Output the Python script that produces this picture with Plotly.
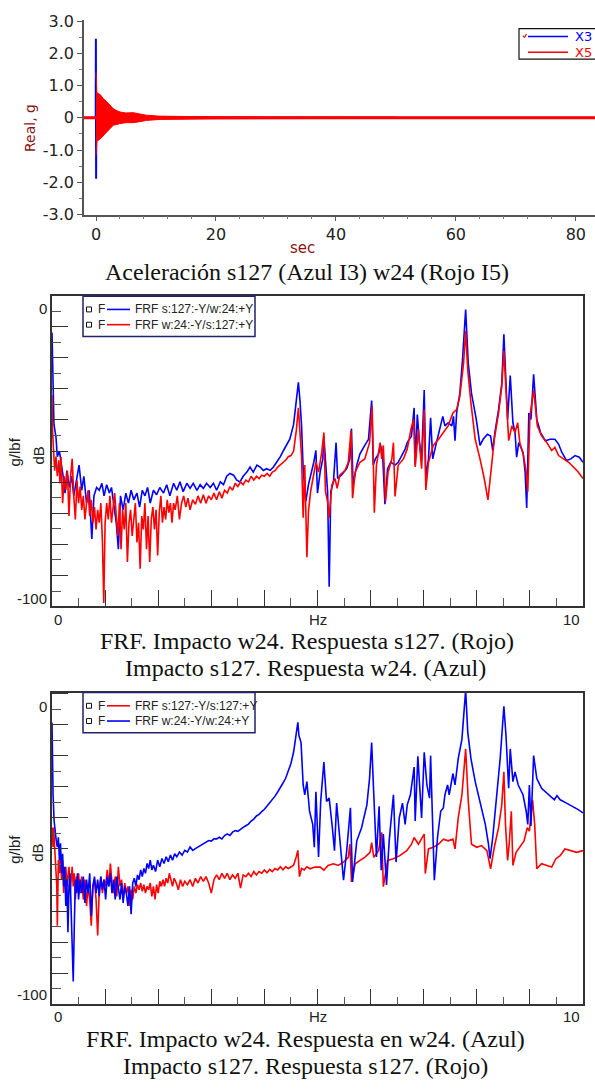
import plotly.graph_objects as go

W, H = 595, 1090

# ---------------- top panel: acceleration, sec vs g ----------------
x3_t = [-2.0, -0.05, -0.02, 0.02, 0.06, 0.3, 83.0]
x3_g = [0.0, 0.0, 2.45, -1.89, 0.0, 0.0, 0.0]

x5_t = [0.0, 0.15, 0.7, 1.2, 1.8, 2.4, 2.9, 3.5, 4.0, 5.0, 6.2, 7.3, 8.4, 10.7, 13.0, 16.0, 20.0, 30.0, 50.0]
x5_hi = [1.40, 0.78, 0.72, 0.60, 0.50, 0.38, 0.28, 0.22, 0.18, 0.15, 0.16, 0.12, 0.08, 0.05, 0.04, 0.035, 0.03, 0.025, 0.02]
x5_lo = [-1.17, -0.72, -0.66, -0.55, -0.43, -0.32, -0.23, -0.20, -0.18, -0.15, -0.15, -0.12, -0.08, -0.05, -0.04, -0.035, -0.03, -0.025, -0.02]
x5_base_t = [-2.0, 83.2]
x5_base_g = [0.0, 0.0]

# ---------------- middle panel: FRF cross (Hz, dB) ----------------
mid_blue = [
    (0.0, -7.7), (0.012, -24), (0.037, -40.5), (0.075, -45), (0.1, -52), (0.14, -50), (0.18, -54.5),
    (0.21, -59), (0.245, -65), (0.28, -57), (0.33, -63), (0.37, -59), (0.41, -66), (0.46, -60),
    (0.51, -55), (0.56, -64), (0.6, -59), (0.65, -68.6), (0.7, -64), (0.75, -81.4), (0.79, -66),
    (0.84, -63), (0.89, -64), (0.94, -61.5), (0.98, -66), (1.03, -62), (1.08, -65), (1.12, -63),
    (1.17, -70), (1.21, -75.6), (1.25, -85), (1.29, -66), (1.34, -71), (1.39, -65), (1.44, -68.6),
    (1.49, -64), (1.54, -67.4), (1.6, -65), (1.65, -70), (1.7, -64), (1.75, -66), (1.8, -63),
    (1.85, -68.6), (1.91, -64), (1.97, -65.6), (2.03, -63), (2.1, -65), (2.16, -62), (2.22, -66),
    (2.29, -61.5), (2.35, -64), (2.41, -61), (2.47, -64.5), (2.54, -61.5), (2.6, -63.3), (2.66, -61.5),
    (2.73, -64), (2.79, -62), (2.85, -63.3), (2.91, -61.5), (2.98, -63), (3.04, -61.5), (3.1, -64),
    (3.17, -61), (3.23, -62), (3.29, -59), (3.35, -58), (3.42, -58.6), (3.48, -60.4), (3.54, -61),
    (3.6, -59), (3.67, -57.5), (3.73, -55.7), (3.79, -57.5), (3.86, -55), (3.92, -55.7), (3.98, -56.9),
    (4.04, -56.3), (4.11, -56.9), (4.17, -55.7), (4.23, -54), (4.3, -52), (4.36, -49.8), (4.42, -48),
    (4.48, -45.7), (4.55, -40.5), (4.6, -32.3), (4.64, -25.5), (4.67, -32), (4.7, -41), (4.73, -56.3),
    (4.78, -68), (4.83, -62), (4.89, -57.5), (4.93, -54), (4.97, -49.8), (5.0, -65), (5.05, -57.5),
    (5.1, -52.8), (5.12, -44.6), (5.16, -57.5), (5.19, -64.5), (5.22, -98.4), (5.25, -64.5), (5.3, -61),
    (5.35, -47), (5.38, -59.8), (5.45, -58.6), (5.55, -56.3), (5.61, -52.8), (5.64, -42), (5.67, -62),
    (5.74, -55), (5.8, -51), (5.89, -48), (5.96, -45.8), (6.02, -32), (6.05, -55), (6.09, -52.8),
    (6.15, -51), (6.19, -48), (6.23, -52.8), (6.27, -69), (6.32, -56.3), (6.38, -54), (6.46, -55),
    (6.52, -54), (6.59, -51.6), (6.65, -49.3), (6.69, -47), (6.77, -44.6), (6.82, -34.6), (6.84, -55),
    (6.88, -37), (6.92, -47), (6.96, -52.8), (7.01, -28.2), (7.04, -59.8), (7.09, -52.8), (7.13, -38.1),
    (7.17, -52.8), (7.24, -47), (7.31, -41), (7.36, -37.6), (7.4, -41), (7.46, -39.9), (7.53, -41),
    (7.56, -37.6), (7.59, -46.3), (7.62, -36.4), (7.68, -29.4), (7.73, -17.7), (7.79, 0.5), (7.84, -18.8),
    (7.9, -29.4), (7.99, -38.7), (8.06, -48), (8.12, -45.8), (8.2, -44), (8.26, -44.6), (8.3, -49.8),
    (8.34, -43.4), (8.41, -35.2), (8.47, -25.9), (8.51, -8.3), (8.55, -27), (8.58, -38.7), (8.63, -23),
    (8.68, -39.9), (8.72, -43.4), (8.75, -52.2), (8.79, -47), (8.87, -50.4), (8.91, -57.5), (8.94, -70.3),
    (8.98, -36.4), (9.02, -38.7), (9.07, -22.6), (9.13, -38.7), (9.2, -43.4), (9.29, -46.3), (9.38, -45.8),
    (9.47, -45.8), (9.54, -47.5), (9.6, -50.4), (9.69, -53.4), (9.77, -52.8), (9.85, -51.6), (9.93, -52.2),
    (10.0, -54),
]

mid_red = [
    (0.0, -30), (0.01, -42.8), (0.03, -49.8), (0.05, -57), (0.075, -52), (0.1, -59), (0.13, -53.3),
    (0.15, -61.5), (0.17, -52), (0.2, -68.6), (0.23, -59), (0.26, -64), (0.29, -57), (0.32, -73.2),
    (0.35, -59), (0.38, -52.8), (0.41, -66), (0.44, -74.4), (0.47, -60.4), (0.5, -68.6), (0.53, -62.7),
    (0.56, -71), (0.59, -66), (0.62, -74.4), (0.65, -68.6), (0.68, -64), (0.71, -73.2), (0.74, -67.4),
    (0.77, -75.6), (0.8, -70), (0.83, -78), (0.86, -71), (0.89, -75.6), (0.92, -68.6), (0.95, -82.6),
    (0.975, -104.2), (1.0, -75.6), (1.03, -68.6), (1.06, -74.4), (1.09, -66), (1.12, -75.6), (1.15, -70),
    (1.18, -65), (1.21, -73.2), (1.24, -80.3), (1.27, -68.6), (1.3, -85), (1.33, -71), (1.36, -78),
    (1.39, -68.6), (1.42, -89.6), (1.45, -75.6), (1.48, -71), (1.51, -80.3), (1.54, -73.2), (1.57, -68.6),
    (1.6, -82.6), (1.63, -75.6), (1.66, -92), (1.69, -73.2), (1.72, -78), (1.75, -68.6), (1.78, -85),
    (1.81, -73.2), (1.84, -89.6), (1.87, -74.4), (1.9, -70), (1.93, -78), (1.96, -71), (1.99, -87.3),
    (2.02, -72), (2.05, -66), (2.08, -75.6), (2.11, -70), (2.14, -74.4), (2.17, -67.4), (2.2, -72),
    (2.23, -68.6), (2.26, -75.6), (2.29, -68.6), (2.32, -71), (2.36, -66), (2.4, -74.4), (2.44, -68.6),
    (2.48, -66), (2.52, -70), (2.56, -66.8), (2.6, -71), (2.65, -67.4), (2.7, -69), (2.75, -66),
    (2.8, -68.6), (2.85, -65.6), (2.9, -68.6), (2.95, -66), (3.0, -67.4), (3.05, -65), (3.1, -67.4),
    (3.15, -64.5), (3.2, -66.8), (3.25, -64), (3.3, -65), (3.35, -62.7), (3.4, -64), (3.45, -61.5),
    (3.5, -62.7), (3.55, -61), (3.6, -62), (3.65, -60.4), (3.7, -61), (3.75, -59), (3.8, -60.4),
    (3.85, -59), (3.9, -59.8), (3.95, -58.6), (4.0, -59), (4.05, -58), (4.1, -59), (4.15, -57.5),
    (4.2, -57), (4.25, -55.7), (4.3, -55), (4.35, -54), (4.4, -53.3), (4.45, -52), (4.5, -51.6),
    (4.55, -50), (4.6, -42.8), (4.64, -34.6), (4.67, -42.8), (4.7, -52), (4.73, -73.8), (4.76, -55),
    (4.8, -87.9), (4.83, -71.5), (4.87, -64.5), (4.92, -59.8), (4.97, -54), (5.02, -57.5), (5.08, -50.4),
    (5.12, -43.4), (5.15, -64.5), (5.19, -68), (5.22, -73.8), (5.27, -62.1), (5.33, -59.8), (5.37, -63.3),
    (5.42, -58.6), (5.52, -56.9), (5.58, -54), (5.63, -42.8), (5.66, -66.8), (5.71, -57.5), (5.8, -54),
    (5.89, -52.8), (5.98, -47), (6.03, -34), (6.07, -72), (6.11, -55), (6.18, -47), (6.21, -52.8),
    (6.24, -48), (6.28, -68), (6.33, -57.5), (6.4, -52.8), (6.43, -47), (6.46, -66.2), (6.52, -55),
    (6.62, -52.8), (6.69, -49.3), (6.76, -42.2), (6.81, -38.7), (6.84, -55.7), (6.9, -42.2), (6.96, -56.3),
    (7.01, -35.2), (7.04, -63.9), (7.09, -54), (7.18, -48), (7.28, -45.8), (7.37, -43.4), (7.46, -41),
    (7.55, -36.4), (7.62, -35.2), (7.68, -30.5), (7.75, -18.8), (7.79, -7.1), (7.83, -21.2), (7.89, -32.9),
    (7.97, -45.8), (8.06, -52.8), (8.14, -59.8), (8.21, -67.4), (8.26, -58.6), (8.33, -45.8), (8.41, -36.4),
    (8.47, -27), (8.51, -14.2), (8.55, -30.5), (8.6, -46.3), (8.66, -41), (8.72, -43.4), (8.77, -39.9),
    (8.81, -47), (8.88, -51.6), (8.93, -57.5), (8.96, -64.5), (9.0, -37.6), (9.07, -28.2), (9.14, -41),
    (9.22, -44.6), (9.32, -47), (9.41, -49.8), (9.47, -48.7), (9.54, -51.6), (9.63, -52.8), (9.73, -54),
    (9.82, -55.7), (9.91, -57.5), (10.0, -59.8),
]

# ---------------- bottom panel: FRF driving point (Hz, dB) ----------------
bot_red = [
    (0.0, -42.3), (0.01, -44.6), (0.02, -49.3), (0.03, -42.3), (0.05, -51.7), (0.07, -56.4), (0.09, -63.4),
    (0.1, -77.5), (0.12, -54), (0.14, -58.7), (0.16, -51.7), (0.18, -61), (0.2, -54), (0.22, -65.8),
    (0.24, -58.7), (0.26, -56.4), (0.28, -63.4), (0.3, -58.7), (0.32, -56.4), (0.34, -65.8), (0.36, -61),
    (0.38, -56.4), (0.4, -63.4), (0.42, -58.7), (0.44, -68.1), (0.46, -59.9), (0.48, -63.4), (0.5, -58.7),
    (0.53, -65.8), (0.56, -59.9), (0.59, -68.1), (0.62, -61), (0.65, -70.4), (0.68, -63.4), (0.71, -68.1),
    (0.74, -77.5), (0.77, -63.4), (0.8, -61), (0.83, -68.1), (0.86, -81), (0.89, -64.6), (0.92, -59.9),
    (0.95, -65.8), (0.98, -61), (1.01, -63.4), (1.04, -57.5), (1.07, -63.4), (1.1, -55.2), (1.13, -62.2),
    (1.16, -65.8), (1.19, -59.9), (1.22, -67), (1.25, -56.4), (1.28, -63.4), (1.31, -61), (1.34, -68.1),
    (1.37, -62.2), (1.4, -65.8), (1.43, -63.4), (1.46, -70.4), (1.49, -64.6), (1.52, -68.1), (1.55, -63.4),
    (1.58, -65.8), (1.61, -62.8), (1.64, -64.6), (1.67, -62.2), (1.7, -65.2), (1.73, -62.8), (1.76, -65.8),
    (1.79, -63.4), (1.82, -64.6), (1.85, -62.2), (1.88, -67), (1.91, -63.4), (1.94, -68.1), (1.97, -62.8),
    (2.0, -65.8), (2.03, -61.6), (2.06, -63.4), (2.09, -61), (2.12, -63.4), (2.15, -60.5), (2.18, -62.2),
    (2.21, -58.7), (2.24, -61.6), (2.27, -63.4), (2.3, -60.5), (2.34, -62.2), (2.38, -64.6), (2.42, -61),
    (2.46, -63.4), (2.5, -61.6), (2.55, -62.8), (2.6, -61), (2.65, -63.4), (2.7, -60.5), (2.75, -62.2),
    (2.8, -59.9), (2.85, -61.6), (2.9, -59.9), (2.95, -62.2), (3.0, -65.8), (3.05, -61), (3.1, -59.3),
    (3.15, -61), (3.2, -58.7), (3.25, -60.5), (3.3, -58.7), (3.35, -61), (3.4, -59.3), (3.45, -60.5),
    (3.5, -58.7), (3.55, -64), (3.6, -59.3), (3.65, -59.9), (3.7, -58.7), (3.75, -59.9), (3.8, -58.1),
    (3.85, -59.3), (3.9, -58.1), (3.95, -58.7), (4.0, -57.5), (4.05, -58.5), (4.1, -57.3), (4.15, -58.1),
    (4.2, -57), (4.25, -57.5), (4.3, -56.4), (4.35, -57.5), (4.4, -56.4), (4.45, -57), (4.5, -56.4),
    (4.55, -55.8), (4.6, -52.8), (4.63, -50.5), (4.66, -59.9), (4.7, -57), (4.75, -57.5), (4.8, -56.4),
    (4.86, -57.1), (4.95, -56.5), (5.05, -56.5), (5.12, -57.6), (5.2, -55.9), (5.3, -55.3), (5.39, -55.9),
    (5.49, -54.7), (5.58, -53), (5.61, -48.3), (5.64, -61.8), (5.71, -55.3), (5.8, -54.1), (5.89, -53),
    (5.99, -51.2), (6.02, -47.7), (6.06, -53), (6.15, -50.6), (6.21, -44.1), (6.24, -63.5), (6.32, -54.1),
    (6.43, -53.5), (6.55, -52.4), (6.68, -50.6), (6.77, -48.3), (6.82, -45.9), (6.9, -48.3), (6.98, -45.3),
    (7.01, -44.7), (7.03, -58.8), (7.09, -50), (7.18, -49.4), (7.28, -48.3), (7.37, -46.5), (7.46, -47.1),
    (7.55, -46.5), (7.59, -50), (7.65, -38.9), (7.72, -30.6), (7.79, -14.2), (7.84, -33), (7.9, -48.3),
    (8.0, -49.4), (8.09, -48.8), (8.19, -50.6), (8.26, -57.1), (8.33, -49.4), (8.41, -42.4), (8.47, -34.2),
    (8.51, -22.4), (8.54, -41.2), (8.58, -54.1), (8.61, -48.3), (8.65, -36.5), (8.68, -55.9), (8.74, -51.2),
    (8.81, -49.4), (8.89, -47.1), (8.95, -42.4), (8.99, -43.6), (9.05, -32.4), (9.09, -41.2), (9.13, -57.1),
    (9.22, -55.3), (9.32, -55.9), (9.41, -56.5), (9.49, -53.5), (9.57, -52.4), (9.66, -50), (9.79, -50.6),
    (9.88, -51.2), (10.0, -50.6),
]

bot_blue = [
    (0.0, -4.7), (0.01, -18.8), (0.02, -30.5), (0.04, -40), (0.06, -44.6), (0.08, -47), (0.1, -49.3),
    (0.12, -45.8), (0.14, -54), (0.16, -48), (0.18, -58.7), (0.2, -51.7), (0.22, -63.4), (0.24, -56.4),
    (0.26, -70.4), (0.28, -61), (0.3, -79.8), (0.32, -63.4), (0.34, -58.7), (0.36, -75.1), (0.38, -89.2),
    (0.4, -97.4), (0.42, -77.5), (0.44, -61), (0.46, -65.8), (0.48, -58.7), (0.5, -68.1), (0.53, -61),
    (0.56, -65.8), (0.59, -59.9), (0.62, -69.3), (0.65, -61), (0.68, -65.8), (0.71, -58.7), (0.74, -74),
    (0.77, -63.4), (0.8, -59.9), (0.83, -65.8), (0.86, -61), (0.89, -67), (0.92, -59.9), (0.95, -64.6),
    (0.98, -61), (1.01, -68.1), (1.04, -59.9), (1.07, -63.4), (1.1, -58.7), (1.13, -65.8), (1.16, -61),
    (1.19, -68.1), (1.22, -59.9), (1.25, -63.4), (1.28, -68.1), (1.31, -62.2), (1.34, -69.3), (1.37, -63.4),
    (1.4, -65.8), (1.43, -70.4), (1.46, -63.4), (1.49, -73.4), (1.52, -62.2), (1.55, -60.5), (1.58, -63.4),
    (1.61, -59.3), (1.64, -61), (1.67, -57.5), (1.7, -59.9), (1.73, -57), (1.76, -58.7), (1.79, -55.2),
    (1.82, -57), (1.85, -54), (1.88, -57.5), (1.91, -55.8), (1.95, -58.1), (1.99, -54), (2.03, -56.4),
    (2.07, -53.4), (2.11, -55.2), (2.15, -52.8), (2.19, -54.6), (2.23, -52.2), (2.27, -54), (2.31, -51.7),
    (2.35, -52.8), (2.4, -51.1), (2.45, -52.2), (2.5, -50.5), (2.55, -51.1), (2.6, -49.3), (2.65, -50.5),
    (2.7, -49.9), (2.75, -49.3), (2.8, -48.7), (2.85, -48.1), (2.9, -47.5), (2.95, -47), (3.0, -47.2),
    (3.05, -46.4), (3.1, -46.4), (3.15, -45.8), (3.2, -46.4), (3.25, -45.2), (3.3, -44.6), (3.35, -45.2),
    (3.4, -44), (3.45, -43.4), (3.5, -43.7), (3.55, -42.9), (3.6, -42.3), (3.65, -41.7), (3.7, -41.1),
    (3.75, -40), (3.8, -39.3), (3.85, -38.2), (3.9, -37.6), (3.95, -36.6), (4.0, -35.8), (4.05, -34.6),
    (4.1, -33.5), (4.15, -32.3), (4.2, -31.1), (4.25, -29.6), (4.3, -28.2), (4.35, -26.4), (4.4, -24.7),
    (4.45, -22.3), (4.5, -19.4), (4.55, -15.3), (4.6, -9.4), (4.63, -4.7), (4.65, -9.4), (4.69, -11.9),
    (4.73, -27.1), (4.76, -30.6), (4.8, -25.9), (4.85, -36.5), (4.91, -41.2), (4.94, -49.4), (4.97, -29.5),
    (5.02, -52.9), (5.06, -33), (5.12, -18.9), (5.17, -33), (5.22, -31.8), (5.28, -42.4), (5.32, -50.6),
    (5.36, -33.6), (5.41, -43.6), (5.49, -61.2), (5.55, -50.6), (5.62, -35.3), (5.66, -61.8), (5.74, -47.1),
    (5.83, -42.4), (5.93, -34.2), (5.98, -24.8), (6.02, -11.9), (6.06, -30.6), (6.11, -52.9), (6.16, -34.7),
    (6.2, -57.6), (6.24, -44.7), (6.3, -62.9), (6.35, -47.1), (6.43, -30.6), (6.48, -54.7), (6.54, -38.9),
    (6.6, -33.6), (6.65, -41.2), (6.69, -34.2), (6.75, -30.6), (6.82, -20.7), (6.84, -40), (6.89, -16.8),
    (6.92, -27.1), (6.96, -38.9), (7.01, -15.4), (7.06, -27.1), (7.11, -31.8), (7.13, -16.6), (7.2, -61.2),
    (7.26, -45.9), (7.32, -36.5), (7.37, -35.3), (7.4, -30.6), (7.45, -27.1), (7.48, -30.6), (7.55, -23),
    (7.59, -27.1), (7.65, -17.7), (7.72, -10.7), (7.76, -1.3), (7.79, 6.9), (7.83, -8.3), (7.89, -17.7),
    (7.97, -25.9), (8.06, -33), (8.16, -41.2), (8.22, -48.3), (8.25, -53.5), (8.3, -45.9), (8.38, -30.6),
    (8.44, -17.7), (8.51, 1.1), (8.55, -9.5), (8.6, -28.3), (8.63, -14.2), (8.68, -25.9), (8.72, -22.4),
    (8.78, -27.1), (8.87, -30.6), (8.93, -36.5), (8.96, -41.2), (8.99, -27.1), (9.02, -41.8), (9.07, -16.6),
    (9.13, -24.8), (9.22, -28.3), (9.35, -30.6), (9.46, -32.4), (9.51, -30.9), (9.57, -32.4), (9.69, -33.6),
    (9.82, -34.8), (9.91, -35.9), (10.0, -37.1),
]

frf_ticks_hz = [0, 5, 10]
frf_ticktext_hz = ["0", "Hz", "10"]
frf_ticks_db = [0, -100]

BLUE = "#0000ff"
RED = "#ff0000"
SERIF = "Liberation Serif"
SANS = "Liberation Sans"


def split(pairs):
    return [p[0] for p in pairs], [p[1] for p in pairs]


def px(x, y):
    return x / W, 1 - y / H


fig = go.Figure()

# top panel traces
fig.add_trace(go.Scatter(x=x3_t, y=x3_g, mode="lines", line=dict(color=BLUE, width=2),
                         xaxis="x", yaxis="y", showlegend=False))
fig.add_trace(go.Scatter(x=x5_base_t, y=x5_base_g, mode="lines", line=dict(color=RED, width=3),
                         xaxis="x", yaxis="y", showlegend=False))
fig.add_trace(go.Scatter(x=x5_t, y=x5_hi, mode="lines", line=dict(color=RED, width=1),
                         xaxis="x", yaxis="y", showlegend=False))
fig.add_trace(go.Scatter(x=x5_t, y=x5_lo, mode="lines", line=dict(color=RED, width=1),
                         fill="tonexty", fillcolor=RED, xaxis="x", yaxis="y", showlegend=False))

# middle panel traces (red on top)
for pairs, col in [(mid_blue, BLUE), (mid_red, RED)]:
    f, db = split(pairs)
    fig.add_trace(go.Scatter(x=f, y=db, mode="lines", line=dict(color=col, width=1.6),
                             xaxis="x2", yaxis="y2", showlegend=False))

# bottom panel traces (blue on top)
for pairs, col in [(bot_red, RED), (bot_blue, BLUE)]:
    f, db = split(pairs)
    fig.add_trace(go.Scatter(x=f, y=db, mode="lines", line=dict(color=col, width=1.6),
                             xaxis="x3", yaxis="y3", showlegend=False))

tickfont_top = dict(family="DejaVu Sans", size=16, color="#222")

frf_x = dict(range=[0, 10], showline=True, mirror=True, linecolor="#333", linewidth=1.5,
             ticks="inside", tick0=0, dtick=1, ticklen=16, tickcolor="#333", tickwidth=1.2,
             minor=dict(ticks="inside", dtick=0.5, tick0=0, ticklen=8, tickcolor="#555", tickwidth=1.2),
             showticklabels=False, showgrid=False, zeroline=False, fixedrange=True)
frf_y = dict(showline=True, mirror=True, linecolor="#333", linewidth=1.5,
             ticks="inside", tick0=-100 / 18, dtick=200 / 18, ticklen=16, tickcolor="#333", tickwidth=1.2,
             minor=dict(ticks="inside", dtick=100 / 18, tick0=0, ticklen=9, tickcolor="#555", tickwidth=1.2),
             showticklabels=False, showgrid=False, zeroline=False, fixedrange=True)

fig.update_layout(
    width=W, height=H, margin=dict(l=0, r=0, t=0, b=0),
    paper_bgcolor="white", plot_bgcolor="white", showlegend=False,
    xaxis=dict(domain=[84 / W, 1.0], range=[-2, 83.2], anchor="y", showline=True, linecolor="#555",
               linewidth=1.5, ticks="outside", ticklen=5, tickcolor="#555", tickvals=[0, 20, 40, 60, 80],
               minor=dict(ticks="outside", dtick=4, tick0=0, ticklen=3, tickcolor="#777"),
               tickfont=tickfont_top, showgrid=False, zeroline=False),
    yaxis=dict(domain=[1 - 210 / H, 1 - 12 / H], range=[-3, 3.04], anchor="x", showline=True,
               linecolor="#555", linewidth=1.5, ticks="outside", ticklen=5, tickcolor="#555",
               tickvals=[-3, -2, -1, 0, 1, 2, 3],
               ticktext=["-3.0", "-2.0", "-1.0", "0", "1.0", "2.0", "3.0"],
               minor=dict(ticks="outside", dtick=0.5, tick0=0, ticklen=3, tickcolor="#777"),
               tickfont=tickfont_top, showgrid=False, zeroline=False),
    xaxis2=dict(domain=[52 / W, 583 / W], anchor="y2", **frf_x),
    yaxis2=dict(domain=[1 - 608 / H, 1 - 293 / H], range=[-105.3, 5.3], anchor="x2", **frf_y),
    xaxis3=dict(domain=[52 / W, 583 / W], anchor="y3", **frf_x),
    yaxis3=dict(domain=[1 - 1013 / H, 1 - 696 / H], range=[-105.6, 6.0], anchor="x3", **frf_y),
)

ann = []


def text(x, y, s, size=15, color="#222", family=SANS, xanchor="center", angle=0):
    ax, ay = px(x, y)
    ann.append(dict(x=ax, y=ay, xref="paper", yref="paper", text=s, showarrow=False,
                    xanchor=xanchor, yanchor="middle", textangle=angle,
                    font=dict(family=family, size=size, color=color)))


# top panel titles
text(30, 122, "Real, g", size=14, color="#8b1414", family="DejaVu Sans", angle=-90)
text(302, 244, "sec", size=15, color="#8b1414", family="DejaVu Sans")
text(307, 268, "Aceleración s127 (Azul I3) w24 (Rojo I5)", size=24, color="#111", family=SERIF)

# FRF panel labels, read from the tick arrays
for ref_x, ylab0, ylab100, xlab_y, title_y in [("x2", 306, 600, 622, 452),
                                               ("x3", 710, 1003, 1025, 856)]:
    for v, t in zip(frf_ticks_hz, frf_ticktext_hz):
        anchor = "left" if v == 0 else ("right" if v == 10 else "center")
        ann.append(dict(x=v, y=1 - xlab_y / H, xref=ref_x, yref="paper", text=t, showarrow=False,
                        xanchor=anchor, yanchor="middle", xshift=(-1 if v == 10 else 0),
                        font=dict(family=SANS, size=15, color="#222")))
    for v, yy in zip(frf_ticks_db, [ylab0, ylab100]):
        text(49, yy, str(v), size=15, xanchor="right")
    text(15, title_y, "g/lbf", size=15, angle=-90)
    text(38, title_y + 3, "dB", size=15, angle=-90)

text(307, 644, "FRF. Impacto w24. Respuesta s127. (Rojo)", size=24, color="#111", family=SERIF)
text(305, 671, "Impacto s127. Respuesta w24. (Azul)", size=24, color="#111", family=SERIF)
text(305, 1048, "FRF. Impacto w24. Respuesta en w24. (Azul)", size=24, color="#111", family=SERIF)
text(305, 1076, "Impacto s127. Respuesta s127. (Rojo)", size=24, color="#111", family=SERIF)

shapes = []


def rect(x0, y0, x1, y1, color, width, fill="white"):
    a0, b1 = px(x0, y0)
    a1, b0 = px(x1, y1)
    shapes.append(dict(type="rect", xref="paper", yref="paper", x0=a0, x1=a1, y0=b0, y1=b1,
                       line=dict(color=color, width=width), fillcolor=fill, layer="above"))


def seg(x0, y0, x1, y1, color, width):
    a0, b0 = px(x0, y0)
    a1, b1 = px(x1, y1)
    shapes.append(dict(type="line", xref="paper", yref="paper", x0=a0, x1=a1, y0=b0, y1=b1,
                       line=dict(color=color, width=width), layer="above"))


# top legend
rect(519, 21, 602, 52, "#111", 1.2)
seg(528, 29, 568, 29, BLUE, 1.5)
seg(528, 45, 568, 45, RED, 1.5)
seg(523, 28, 524.5, 30, RED, 1.2)
seg(524.5, 30, 526.5, 26.5, RED, 1.2)
text(573, 29, "X3", size=13, color=BLUE, family="DejaVu Sans", xanchor="left")
text(573, 45, "X5", size=13, color=RED, family="DejaVu Sans", xanchor="left")

# FRF legends
for top, rows in [(293, [(BLUE, "FRF s:127:-Y/w:24:+Y"), (RED, "FRF w:24:-Y/s:127:+Y")]),
                  (696, [(RED, "FRF s:127:-Y/s:127:+Y"), (BLUE, "FRF w:24:-Y/w:24:+Y")])]:
    rect(83, top, 255, top + 41, "#22226e", 1.5)
    for i, (col, label) in enumerate(rows):
        yy = top + 13.5 + 15.5 * i
        rect(86.5, yy - 2.5, 91.5, yy + 2.5, "#111", 1)
        text(96, yy, "F", size=12, xanchor="left")
        seg(107, yy, 130, yy, col, 1.6)
        text(133, yy, label, size=12, xanchor="left")

fig.update_layout(annotations=ann, shapes=shapes)

# page without the default body margin, so the 595x1090 figure fills the window exactly
fig.write_html("out.html", config={"displayModeBar": False},
               post_script="document.body.style.margin='0';"
                           "document.documentElement.style.overflow='hidden';")
